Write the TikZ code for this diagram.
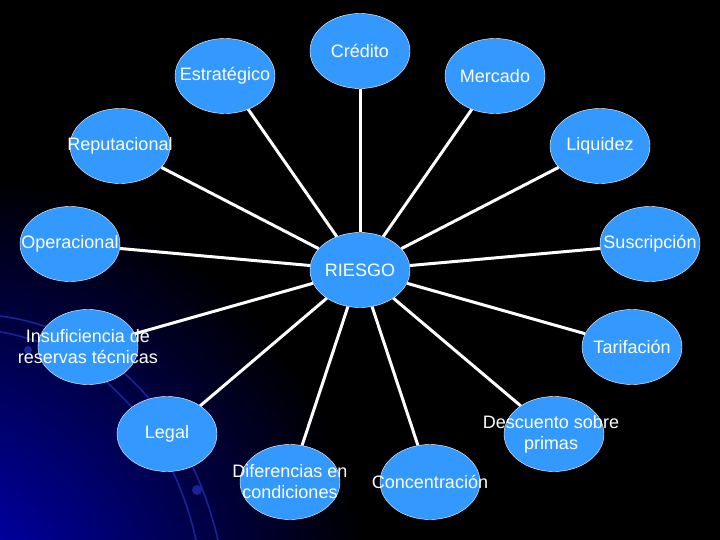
\documentclass[tikz,border=0pt]{standalone}
\usepackage{fontspec}
\setmainfont{Liberation Sans}
\usetikzlibrary{shapes.geometric}

\definecolor{riskblue}{RGB}{51,153,255}
\definecolor{glowblue}{RGB}{0,0,200}
\definecolor{swirlblue}{RGB}{25,35,150}

\pgfdeclarelayer{bg}
\pgfdeclarelayer{spokes}
\pgfsetlayers{bg,spokes,main}

\tikzset{
  risk/.style={ellipse, draw=white, thin, fill=riskblue,
    minimum width=100pt, minimum height=75pt, inner sep=0pt},
  risktext/.style={text=white, font=\fontsize{18}{21}\selectfont, align=center},
  spoke/.style={draw=white, line width=3pt},
  swirl/.style={draw=swirlblue, line width=1.6pt}
}

\begin{document}
\begin{tikzpicture}[x=1pt, y=-1pt]
      \useasboundingbox (0,0) rectangle (720,540);

      % centre and the risks round it
      \node[risk, label={[risktext]center:RIESGO}] (riesgo) at (360,270) {};
      \node[risk, label={[risktext]center:Crédito}] (credito) at (360,51) {};
      \node[risk, label={[risktext]center:Estratégico}] (estrategico) at (225,76) {};
      \node[risk, label={[risktext]center:Mercado}] (mercado) at (495,76) {};
      \node[risk, label={[risktext]center:Reputacional}] (reputacional) at (120,146) {};
      \node[risk, label={[risktext]center:Liquidez}] (liquidez) at (600,146) {};
      \node[risk, label={[risktext]center:Operacional}] (operacional) at (70,244) {};
      \node[risk, label={[risktext]center:Suscripción}] (suscripcion) at (650,244) {};
      \node[risk, label={[risktext]center:{Insuficiencia de\\reservas técnicas}}] (insuficiencia) at (88,347) {};
      \node[risk, label={[risktext]center:Tarifación}] (tarifacion) at (632,347) {};
      \node[risk, label={[risktext]center:Legal}] (legal) at (167,434) {};
      \node[risk, label={[risktext, xshift=-3pt]center:{Descuento sobre\\primas}}] (descuento) at (554,434) {};
      \node[risk, label={[risktext]center:{Diferencias en\\condiciones}}] (diferencias) at (290,482) {};
      \node[risk, label={[risktext]center:Concentración}] (concentracion) at (430,482) {};

      \begin{pgfonlayer}{spokes}
        \foreach \r in {credito,estrategico,mercado,reputacional,liquidez,
            operacional,suscripcion,insuficiencia,tarifacion,legal,
            descuento,diferencias,concentracion}
          \draw[spoke] (riesgo) -- (\r);
      \end{pgfonlayer}

      % slide background
      \begin{pgfonlayer}{bg}
        \fill[black] (0,0) rectangle (720,540);
        \begin{scope}
          \clip (0,0) rectangle (720,540);
          \fill[inner color=glowblue, outer color=black] (-70,610) circle (440);
          \draw[swirl] (0,316) .. controls (110,330) and (190,420) .. (218,540);
          \draw[swirl] (0,332) .. controls (100,348) and (172,432) .. (196,540);
          \fill[swirlblue] (197,490) circle (5);
          \fill[swirlblue] (28,350) circle (4);
        \end{scope}
      \end{pgfonlayer}
\end{tikzpicture}
\end{document}
